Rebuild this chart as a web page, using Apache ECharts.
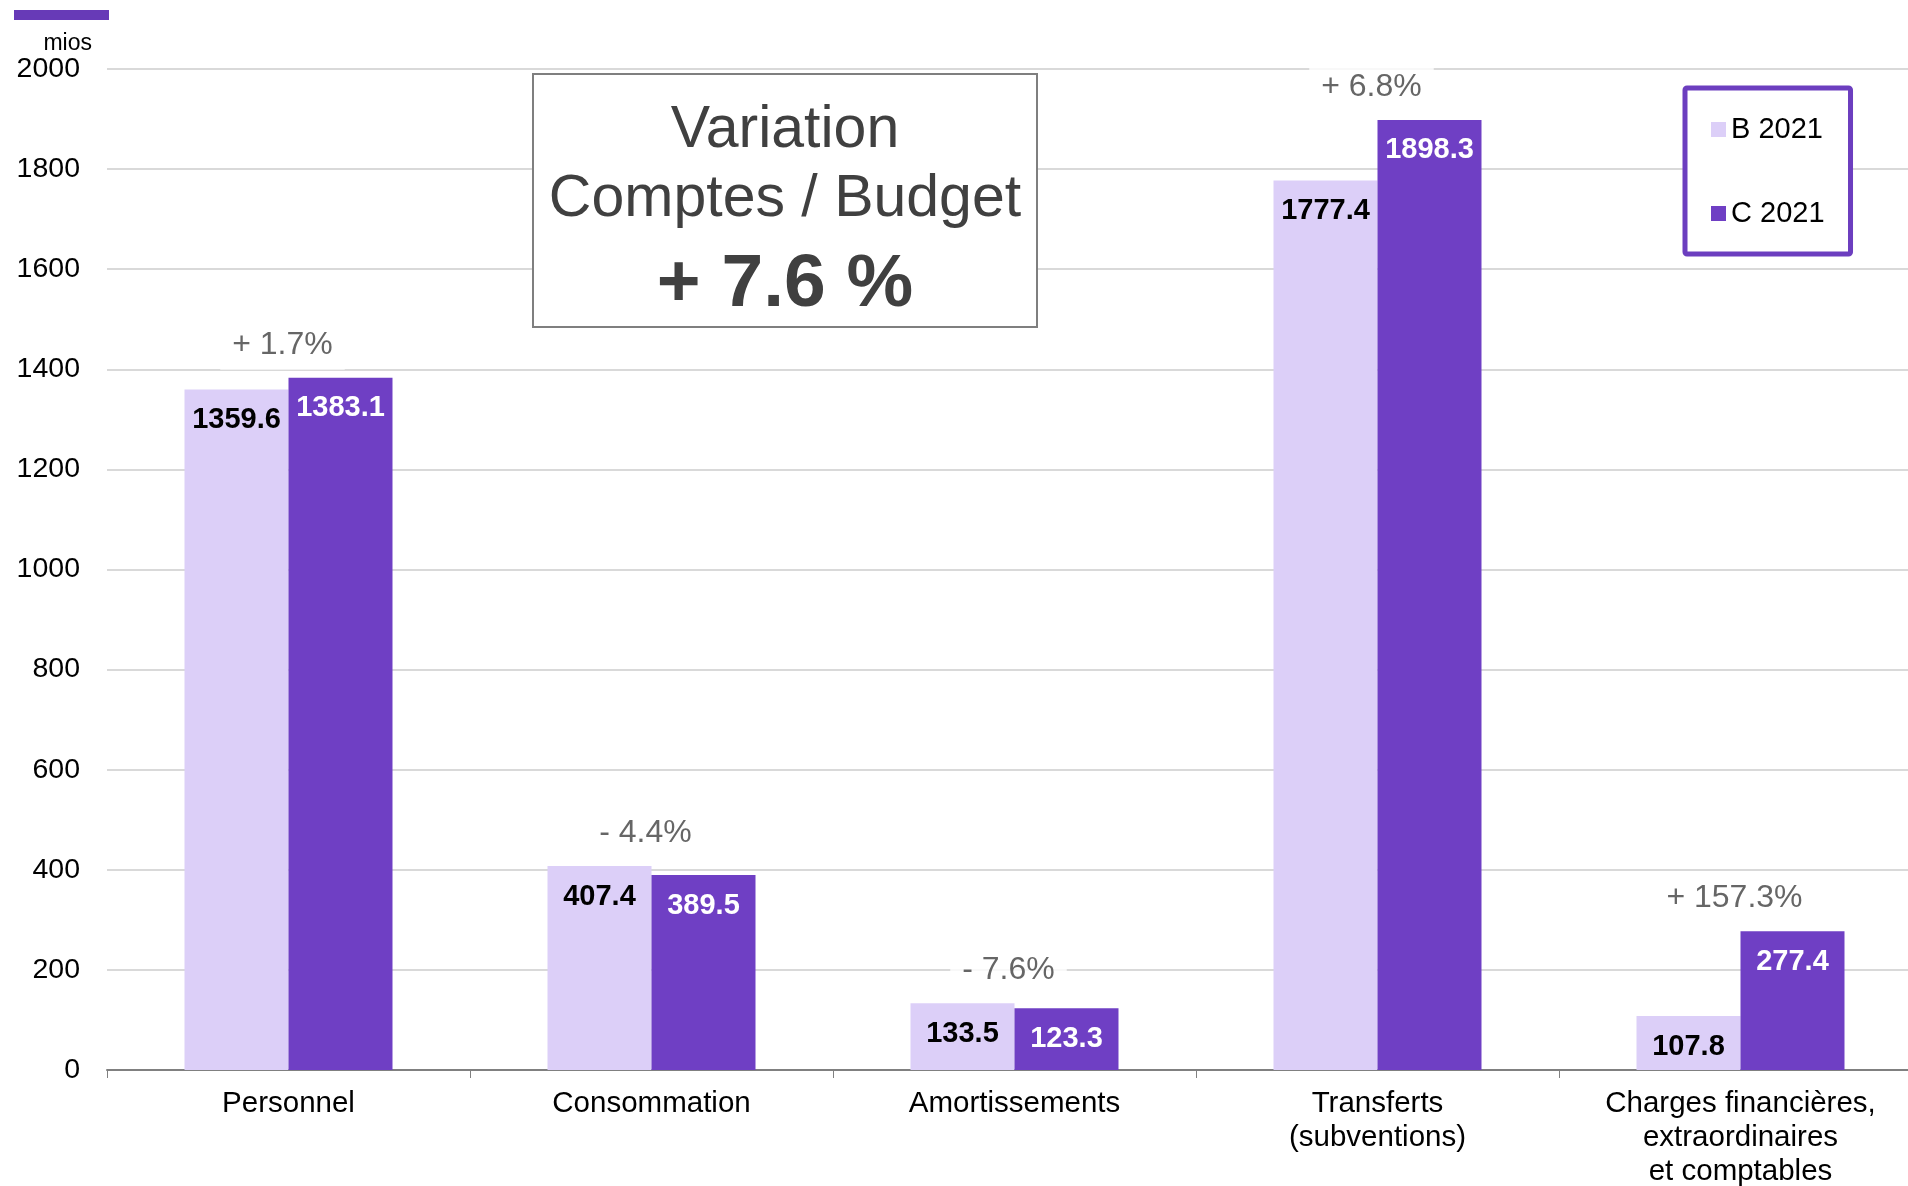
<!DOCTYPE html>
<html>
<head>
<meta charset="utf-8">
<script src="https://cdn.jsdelivr.net/npm/echarts@6/dist/echarts.min.js"></script>
<style>
html,body{margin:0;padding:0;background:#fff;overflow:hidden;}
#c{width:1908px;height:1186px;}
</style>
</head>
<body>
<div id="c"></div>
<script>
var categories = ['Personnel', 'Consommation', 'Amortissements', 'Transferts\n(subventions)', 'Charges financières,\nextraordinaires\net comptables'];
var budget2021 = [1359.6, 407.4, 133.5, 1777.4, 107.8];
var comptes2021 = [1383.1, 389.5, 123.3, 1898.3, 277.4];
var variations = ['+ 1.7%', '- 4.4%', '- 7.6%', '+ 6.8%', '+ 157.3%'];
var yTicks = [0, 200, 400, 600, 800, 1000, 1200, 1400, 1600, 1800, 2000];
var seriesNames = ['B 2021', 'C 2021'];

var FONT = '"Liberation Sans", Arial, sans-serif';
var LIGHT = '#DCCFF8';
var DARK = '#6F3FC4';

var chart = echarts.init(document.getElementById('c'));
var topVals = budget2021.map(function (b, i) { return Math.max(b, comptes2021[i]); });

chart.setOption({
  animation: false,
  textStyle: { fontFamily: FONT },
  grid: { left: 107, top: 69, width: 1815, height: 1001, containLabel: false, outerBoundsMode: 'none' },
  legend: {
    data: seriesNames,
    orient: 'vertical',
    left: 1685, top: 88,
    padding: [27, 26, 26, 26],
    itemGap: 55,
    itemWidth: 15, itemHeight: 15,
    icon: 'rect',
    borderColor: '#6C3EBF', borderWidth: 5, borderRadius: 2,
    backgroundColor: '#fff',
    textStyle: { fontSize: 29, color: '#000', fontFamily: FONT }
  },
  xAxis: {
    type: 'category',
    data: categories,
    axisLine: { lineStyle: { color: '#808080', width: 2 } },
    axisTick: { show: true, length: 8, lineStyle: { color: '#808080', width: 1 } },
    axisLabel: { interval: 0, fontSize: 29.5, color: '#000', lineHeight: 34, margin: 17, fontFamily: FONT }
  },
  yAxis: {
    type: 'value',
    min: yTicks[0], max: yTicks[yTicks.length - 1], interval: 200,
    axisLine: { show: false }, axisTick: { show: false },
    axisLabel: { fontSize: 28.5, color: '#000', margin: 27, fontFamily: FONT, formatter: function (v) { return String(v); } },
    splitLine: { lineStyle: { color: '#d9d9d9', width: 2 } }
  },
  series: [
    {
      name: seriesNames[0], type: 'bar', data: budget2021,
      barGap: '0%', barCategoryGap: '42.7%',
      itemStyle: { color: LIGHT },
      label: { show: true, position: 'insideTop', distance: 16, fontSize: 29, fontWeight: 'bold', color: '#000', fontFamily: FONT,
        formatter: function (p) { return p.value.toFixed(1); } }
    },
    {
      name: seriesNames[1], type: 'bar', data: comptes2021,
      itemStyle: { color: DARK },
      label: { show: true, position: 'insideTop', distance: 16, fontSize: 29, fontWeight: 'bold', color: '#fff', fontFamily: FONT,
        formatter: function (p) { return p.value.toFixed(1); } }
    },
    {
      name: 'variation', type: 'scatter', data: topVals, symbolSize: 0, z: 5,
      silent: true,
      label: { show: true, position: 'inside', offset: [-6, -33], fontSize: 32, color: '#404040', fontFamily: FONT,
        backgroundColor: '#fff', padding: [9, 12],
        formatter: function (p) { return variations[p.dataIndex]; } }
    }
  ],
  graphic: [
    { type: 'rect', left: 14, top: 10, shape: { width: 95, height: 10 }, style: { fill: '#673AB7' }, z: 10 },
    { type: 'text', x: 92, y: 44, style: { text: 'mios', font: '23px ' + FONT, fill: '#000', textAlign: 'right', textVerticalAlign: 'middle' }, z: 10 },
    { type: 'rect', shape: { x: 533, y: 74, width: 504, height: 253 }, style: { fill: '#fff', stroke: '#7f7f7f', lineWidth: 2 }, z: 10 },
    { type: 'text', x: 785, y: 131, style: { text: 'Variation', font: '59px ' + FONT, fill: '#404040', textAlign: 'center', textVerticalAlign: 'middle' }, z: 11 },
    { type: 'text', x: 785, y: 200, style: { text: 'Comptes / Budget', font: '59px ' + FONT, fill: '#404040', textAlign: 'center', textVerticalAlign: 'middle' }, z: 11 },
    { type: 'text', x: 785, y: 285, style: { text: '+ 7.6 %', font: 'bold 75px ' + FONT, fill: '#404040', textAlign: 'center', textVerticalAlign: 'middle' }, z: 11 }
  ]
});
</script>
</body>
</html>
